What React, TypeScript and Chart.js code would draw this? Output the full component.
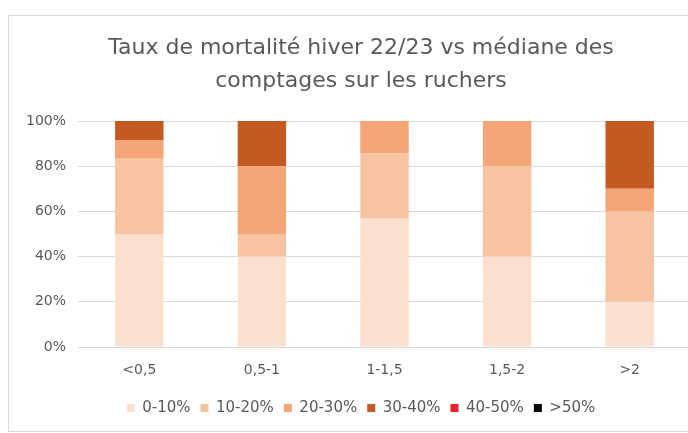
import React, { useEffect, useRef } from "react";
import { Chart, registerables } from "chart.js";

Chart.register(...registerables);

const categories = ["<0,5", "0,5-1", "1-1,5", "1,5-2", ">2"];
const seriesNames = ["0-10%", "10-20%", "20-30%", "30-40%", "40-50%", ">50%"];
const s0_10 = [50, 40, 57.1, 40, 20];
const s10_20 = [33.3, 10, 28.6, 40, 40];
const s20_30 = [8.3, 30, 14.3, 20, 10];
const s30_40 = [8.4, 20, 0, 0, 30];
const s40_50 = [0, 0, 0, 0, 0];
const s50 = [0, 0, 0, 0, 0];
const seriesColors = ["#fbe0d0", "#f8c3a0", "#f4a678", "#c45a22", "#e8202a", "#000000"];
const yTicks = [0, 20, 40, 60, 80, 100];
const titleLines = ["Taux de mortalité hiver 22/23 vs médiane des", "comptages sur les ruchers"];

export default function App() {
  const ref = useRef<HTMLCanvasElement | null>(null);
  useEffect(() => {
    if (!ref.current) return;
    const prevOverflow = document.body.style.overflow;
    document.body.style.overflow = "hidden";
    const values = [s0_10, s10_20, s20_30, s30_40, s40_50, s50];
    const chart = new Chart(ref.current, {
      type: "bar",
      data: {
        labels: categories,
        datasets: values.map((v, i) => ({
          label: seriesNames[i],
          data: v,
          backgroundColor: seriesColors[i],
          borderWidth: 0,
          categoryPercentage: 1,
          barPercentage: 0.395,
          yAxisID: "y",
        })),
      },
      options: {
        responsive: false,
        animation: false,
        layout: { padding: { left: 0, right: 0, top: 0, bottom: 5.5 } },
        plugins: {
          title: {
            display: true,
            text: titleLines,
            color: "#595959",
            font: { family: "DejaVu Sans", size: 22, weight: "normal", lineHeight: 1.5 },
            padding: { top: 16, bottom: 23 },
          },
          legend: {
            position: "bottom",
            labels: {
              color: "#595959",
              font: { family: "DejaVu Sans", size: 15 },
              boxWidth: 8,
              boxHeight: 8,
              padding: 10,
            },
          },
          tooltip: { enabled: false },
        },
        scales: {
          x: {
            stacked: true,
            grid: { display: false, drawTicks: false },
            border: { display: false },
            afterFit: (s: any) => {
              s.height = 43.5;
            },
            ticks: { color: "#595959", font: { family: "DejaVu Sans", size: 14 }, padding: 15 },
          },
          y: {
            stacked: true,
            min: 0,
            max: 100,
            afterFit: (s: any) => {
              s.width = 69;
            },
            afterBuildTicks: (s: any) => {
              s.ticks = yTicks.map((v) => ({ value: v }));
            },
            grid: { color: "#d9d9d9", lineWidth: 1, drawTicks: false },
            border: { display: false },
            ticks: {
              color: "#595959",
              font: { family: "DejaVu Sans", size: 14 },
              padding: 12,
              callback: (v: any) => v + "%",
            },
          },
          y2: {
            position: "right",
            display: true,
            afterFit: (s: any) => {
              s.width = 22;
            },
            grid: { display: false, drawTicks: false },
            border: { display: false },
            ticks: { display: false },
          },
        },
      },
    });
    return () => {
      chart.destroy();
      document.body.style.overflow = prevOverflow;
    };
  }, []);
  return (
    <div
      style={{
        position: "absolute",
        left: 8,
        top: 15,
        width: 679,
        height: 415,
        overflow: "hidden",
        borderTop: "1px solid #d9d9d9",
        borderLeft: "1px solid #d9d9d9",
        borderBottom: "1px solid #d9d9d9",
        background: "#fff",
      }}
    >
      <canvas ref={ref} width={704} height={415} style={{ display: "block" }} />
    </div>
  );
}
